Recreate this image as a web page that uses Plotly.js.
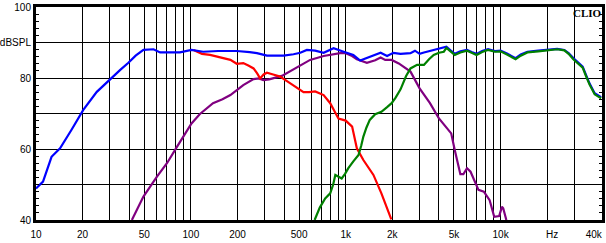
<!DOCTYPE html>
<html><head><meta charset="utf-8">
<script src="https://cdn.plot.ly/plotly-3.0.1.min.js"></script>
<style>html,body{margin:0;padding:0;background:#fff}#c{width:606px;height:243px}</style>
</head><body><div id="c"></div>
<script>
// Total response (blue)
const totalF = [10,11.1,12.6,14.3,17,20.2,24.7,30.8,35,39.5,44,49.4,57.4,63.3,85,101,120,150,198,240,267,310,397,460,509,561,635,720,835,970,1120,1240,1370,1520,1680,1850,2030,2260,2620,2800,3000,3200,3700,4000,4470,4750,5060,5500,6070,6500,7000,7600,8300,9200,10000,11000,12500,13500,14900,17500,20000,23200,25800,27500,29500,31500,33900,35500,37500,40500,44600];
const totalDB = [48.9,50.8,57.8,60.2,65.5,71,76.1,80.2,82.3,84.3,86.3,87.9,88.1,87.2,87.2,87.9,87.4,87.6,87.6,87.3,87,86.3,86.3,86.7,87.1,87.9,87.7,87.1,88.4,87.4,86.5,84.9,85.6,86.3,87.1,86.2,87.1,86.8,87.0,87.7,86.8,87.2,87.9,88.1,88.8,87.8,86.8,87.5,87.9,87.3,86.8,87.6,88.1,87.6,87.7,86.9,85.6,86.6,87.4,87.7,87.9,88.2,87.9,87.0,85.6,84.5,83.2,81.0,78.5,75.7,74.6];
// Tweeter (green)
const tweF = [630,680,737,794,830,857,900,942,990,1040,1120,1210,1260,1300,1360,1430,1550,1700,1850,1980,2100,2260,2450,2620,2890,3200,3450,3700,4000,4300,4470,4750,5060,5500,6070,6500,7000,7600,8300,9200,10000,11000,12500,13500,14900,17500,20000,23200,25800,27500,29500,31500,33900,35500,37500,40500,44600];
const tweDB = [40,43.5,46.1,47.5,50,52.7,52.2,51.7,53,54.6,56.5,58.3,61,63.5,66,68.2,69.8,70.5,71.8,72.9,74.5,76.8,80.5,82.7,83.7,83.7,85.3,86.5,87.1,87.4,88.5,87.5,86.5,87.2,87.7,87.1,86.5,87.3,87.9,87.4,87.5,86.6,85.3,86.3,87.2,87.5,87.8,88.1,87.8,86.8,85.3,84.2,82.9,80.7,78.2,75.4,74.3];
// Woofer (red)
const wooF = [104,118,133,147,165,180,198,218,235,254,268,280,295,310,340,377,439,490,534,580,635,720,794,850,898,1000,1100,1180,1300,1510,1700,1970];
const wooDB = [87.9,86.8,86.5,86.0,85.6,85.1,84.0,84.2,83.5,82.7,81.3,79.9,81.0,81.5,81.0,80.4,78.5,77,76.0,76,76.2,75.2,72.9,70.5,68.6,68.0,66.3,60.2,56.9,52.7,47.5,40.2];
// Midrange (purple)
const midF = [41.6,49.4,60.4,70.1,81.3,91.6,101,114,139,160,180,200,218,254,275,294,320,387,457,520,589,720,820,920,1000,1100,1180,1370,1550,1680,1800,1980,2200,2400,2620,3000,3500,4000,4400,4800,5060,5300,5500,5750,6070,6400,6900,7200,7800,8500,9100,9800,10200,10400,10900];
const midDB = [40,46.6,52.2,56,60.6,64.4,67.2,69.8,72.9,74,75.2,76.7,78,79.7,79.9,79.4,79.6,80.6,82.3,83.8,85.1,86.2,86.7,87,87,86.2,85.3,84.3,85,85.8,85.1,85.1,84.1,83,81.8,77.1,72.9,68.6,66.3,64.4,59.7,56,52.9,52.9,54.6,53.6,50.3,48.5,48,45.6,40.9,41.1,43.7,43.3,40];

const gridF = [20,30,40,50,60,70,80,90,100,200,300,400,500,600,700,800,900,1000,2000,3000,4000,5000,6000,7000,8000,9000,10000,20000,30000];
const labelF = [10,20,50,100,200,500,1000,2000,5000,10000,21500,40000];
const labelT = ['10','20','50','100','200','500','1k','2k','5k','10k','Hz','40k'];
const yTickV = [40,50,60,70,80,90,100];
const yTickT = ['40','','60','','80','dBSPL','100'];

const lw = 2.2;
const traces = [
  {x: tweF, y: tweDB, mode:'lines', line:{color:'#008000', width:lw}, xaxis:'x2'},
  {x: midF, y: midDB, mode:'lines', line:{color:'#800080', width:lw}},
  {x: wooF, y: wooDB, mode:'lines', line:{color:'#ff0000', width:lw}},
  {x: totalF, y: totalDB, mode:'lines', line:{color:'#0000ff', width:lw}}
];
const xr = [1, 4.655];
const font = {family:'Liberation Sans, Arial, sans-serif', size:10, color:'#000'};
const layout = {
  width:606, height:243,
  margin:{l:36, r:4, t:7, b:23, pad:0},
  paper_bgcolor:'#fff', plot_bgcolor:'#fff',
  showlegend:false,
  font: font,
  xaxis:{type:'log', range:xr, tickmode:'array', tickvals:gridF, ticktext:gridF.map(()=> ''),
         showgrid:true, gridcolor:'#000', gridwidth:1, ticks:'', showline:true, linecolor:'#000', linewidth:3, mirror:true, zeroline:false, fixedrange:true},
  xaxis2:{type:'log', range:xr, overlaying:'x', anchor:'y', side:'bottom', tickmode:'array', tickvals:labelF, ticktext:labelT,
          showgrid:false, ticks:'outside', ticklen:5, tickcolor:'rgba(0,0,0,0)', showline:false, zeroline:false, tickfont:font},
  yaxis:{range:[40,100], tickmode:'array', tickvals:yTickV, ticktext:yTickT, showgrid:true, gridcolor:'#000', gridwidth:1,
         ticks:'inside', ticklen:3, tickcolor:'#000', showline:true, linecolor:'#000', linewidth:3, mirror:'ticks', zeroline:false,
         minor:{dtick:2, tick0:40, ticks:'inside', ticklen:3, tickcolor:'#000', showgrid:false}, tickfont:font},
  annotations:[{xref:'paper', yref:'paper', x:0.9735, y:0.972, xanchor:'center', yanchor:'middle', showarrow:false,
    text:'<b>CLIO</b>', font:{family:'Liberation Serif, Times New Roman, serif', size:11, color:'#000'}}]
};
Plotly.newPlot('c', traces, layout, {staticPlot:true, displayModeBar:false});
</script></body></html>
